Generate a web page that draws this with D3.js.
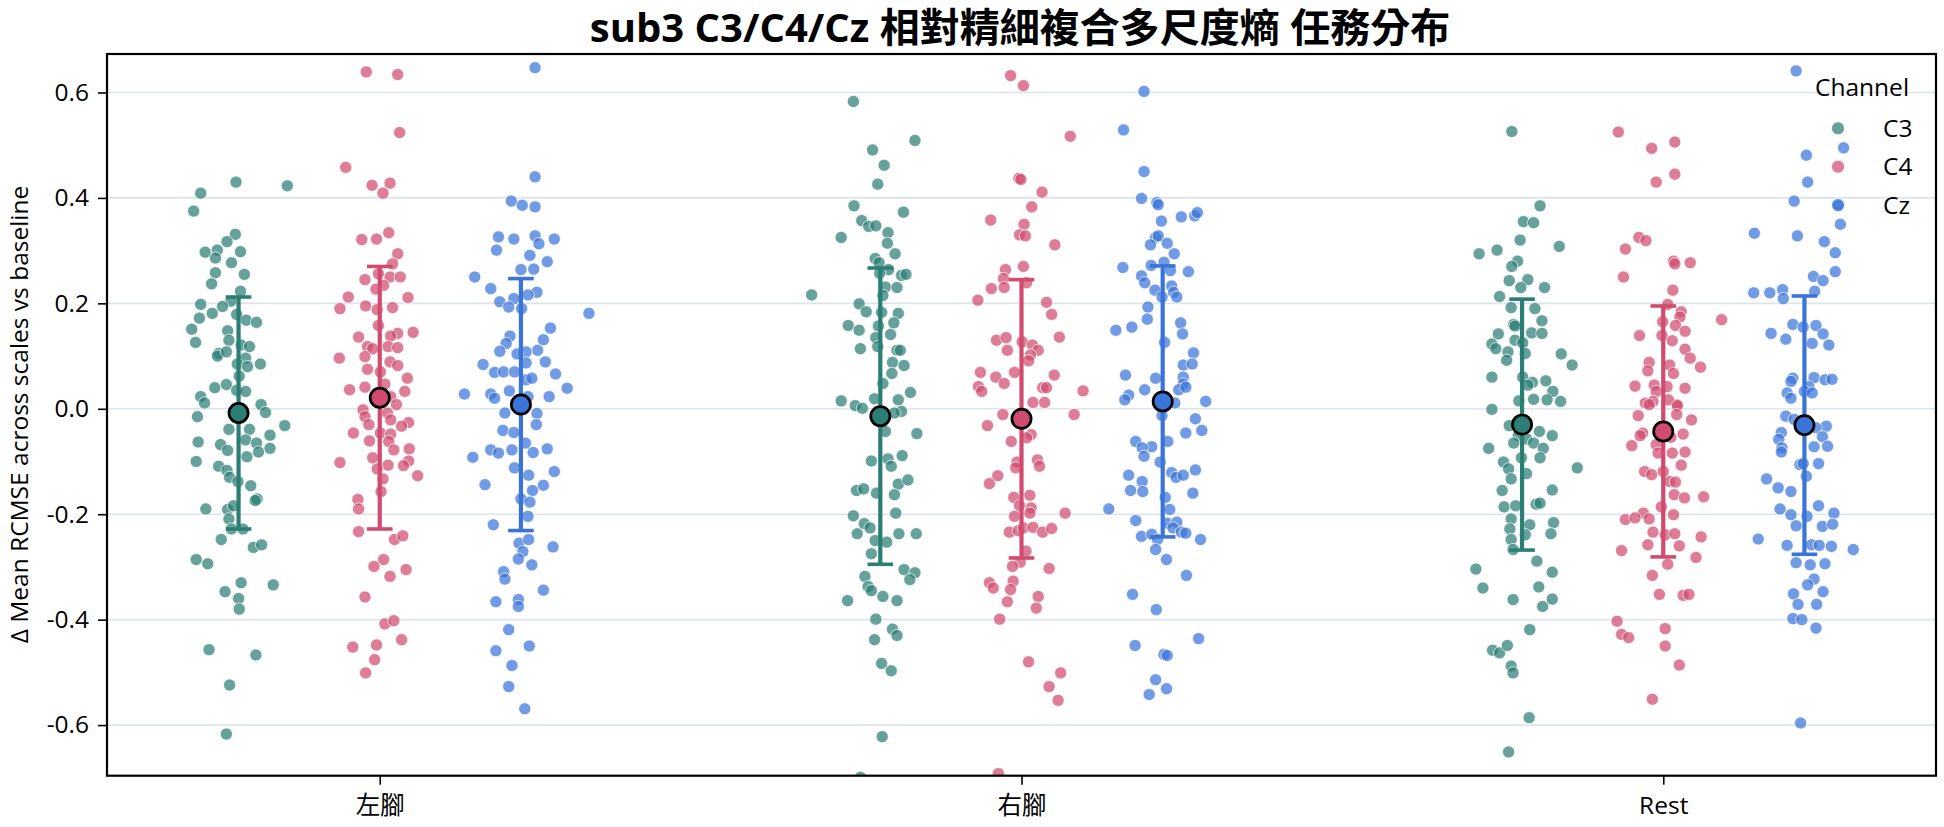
<!DOCTYPE html>
<html><head><meta charset="utf-8">
<script src="https://cdn.jsdelivr.net/npm/d3@7"></script>
<style>
body{margin:0;background:#fff;}
svg text{font-family:'Open Sans','Noto Sans CJK TC',sans-serif;fill:#000;}
</style></head><body>
<svg id="chart" width="1944" height="827"></svg>
<script>
const categories = ["左腳","右腳","Rest"];
const channels = ["C3","C4","Cz"];
const yTicks = [-0.6,-0.4,-0.2,0,0.2,0.4,0.6];
const yTickLabels = ["-0.6","-0.4","-0.2","0.0","0.2","0.4","0.6"];
const titleText = "sub3 C3/C4/Cz 相對精細複合多尺度熵 任務分布";
const yLabelText = "Δ Mean RCMSE across scales vs baseline";
const legendTitle = "Channel";

// 左腳
const leftC3Values=[0.409,0.430,0.423,0.375,0.331,0.317,0.297,0.301,0.286,0.298,0.277,0.258,0.255,0.237,0.223,0.204,0.198,0.194,0.179,0.181,0.172,0.168,0.164,0.151,0.148,0.126,0.130,0.121,0.118,0.105,0.100,0.108,0.096,0.085,0.085,0.080,0.062,0.040,0.046,0.035,0.033,0.023,0.011,0.008,-0.007,-0.015,-0.032,-0.039,-0.039,-0.050,-0.063,-0.068,-0.059,-0.065,-0.079,-0.075,-0.091,-0.082,-0.100,-0.109,-0.117,-0.130,-0.138,-0.146,-0.171,-0.174,-0.190,-0.191,-0.184,-0.209,-0.228,-0.228,-0.248,-0.263,-0.258,-0.286,-0.294,-0.330,-0.334,-0.347,-0.360,-0.380,-0.457,-0.467,-0.524,-0.617];
const leftC3Jitter=[-0.059,-0.004,0.076,-0.070,-0.005,-0.018,-0.052,-0.033,-0.036,0.003,-0.011,-0.036,0.009,-0.042,0.003,-0.012,-0.059,-0.025,-0.003,-0.041,-0.061,0.012,0.028,-0.073,-0.017,-0.067,-0.015,0.004,0.017,-0.031,-0.033,-0.019,0.011,0.034,-0.002,0.014,0.001,-0.037,-0.019,-0.003,0.011,-0.059,-0.053,0.035,0.042,-0.064,0.072,-0.015,0.017,0.049,-0.063,-0.028,0.011,0.028,-0.017,0.049,0.013,0.031,-0.066,-0.031,-0.018,-0.014,-0.001,0.019,0.029,0.026,-0.051,-0.017,-0.008,-0.015,-0.011,0.007,-0.027,0.023,0.036,-0.066,-0.048,0.004,0.054,-0.021,0.000,0.001,-0.046,0.027,-0.014,-0.019];
const leftC4Values=[0.639,0.634,0.524,0.458,0.424,0.428,0.409,0.334,0.321,0.322,0.294,0.275,0.245,0.256,0.250,0.250,0.234,0.227,0.212,0.211,0.190,0.195,0.192,0.188,0.158,0.143,0.145,0.138,0.136,0.118,0.114,0.118,0.116,0.096,0.099,0.089,0.082,0.075,0.070,0.058,0.047,0.041,0.036,0.033,0.023,0.008,-0.002,-0.008,-0.015,-0.021,-0.030,-0.026,-0.033,-0.046,-0.046,-0.048,-0.062,-0.061,-0.076,-0.078,-0.093,-0.107,-0.102,-0.099,-0.108,-0.114,-0.127,-0.133,-0.157,-0.172,-0.190,-0.233,-0.248,-0.241,-0.286,-0.299,-0.305,-0.318,-0.357,-0.408,-0.402,-0.438,-0.452,-0.448,-0.476,-0.501];
const leftC4Jitter=[-0.021,0.028,0.031,-0.053,-0.012,0.016,0.005,0.014,-0.028,-0.005,0.028,0.020,-0.023,-0.002,0.016,0.032,0.006,-0.006,-0.049,0.044,-0.062,-0.022,0.020,-0.004,-0.002,0.028,0.052,0.017,-0.033,-0.019,-0.011,0.013,0.028,-0.063,-0.023,0.016,0.028,-0.019,0.001,0.043,0.008,-0.023,-0.047,0.039,0.017,0.026,-0.026,0.012,-0.023,0.017,-0.017,0.045,0.034,-0.041,0.001,0.017,0.014,-0.016,0.046,0.022,-0.011,0.013,-0.062,0.045,0.037,-0.004,0.059,0.005,0.002,-0.034,-0.033,-0.033,0.023,0.036,0.006,-0.009,0.041,0.016,-0.023,0.008,0.022,0.034,-0.042,-0.005,-0.008,-0.022];
const leftCzValues=[0.647,0.440,0.394,0.386,0.383,0.326,0.322,0.328,0.322,0.313,0.301,0.291,0.279,0.264,0.265,0.250,0.228,0.221,0.216,0.209,0.203,0.193,0.190,0.181,0.153,0.138,0.131,0.124,0.109,0.111,0.108,0.104,0.087,0.084,0.089,0.069,0.070,0.070,0.066,0.055,0.058,0.039,0.028,0.028,0.034,0.020,0.023,0.023,-0.009,-0.008,-0.030,-0.041,-0.045,-0.065,-0.078,-0.084,-0.078,-0.083,-0.076,-0.092,-0.112,-0.126,-0.119,-0.144,-0.145,-0.155,-0.171,-0.177,-0.204,-0.220,-0.255,-0.248,-0.262,-0.271,-0.285,-0.296,-0.309,-0.323,-0.344,-0.366,-0.362,-0.375,-0.419,-0.459,-0.450,-0.487,-0.527,-0.569];
const leftCzJitter=[0.022,0.022,-0.015,0.002,0.022,-0.035,-0.011,0.022,0.052,0.028,-0.038,0.014,0.041,0.000,0.020,-0.072,-0.047,0.025,0.011,-0.011,-0.033,-0.019,0.001,0.106,0.046,-0.017,0.035,-0.023,-0.033,0.026,0.008,-0.006,0.008,-0.059,0.038,-0.041,-0.027,-0.010,0.054,0.008,0.017,0.072,-0.088,-0.047,-0.018,-0.041,0.044,0.011,0.025,-0.025,0.024,-0.028,-0.011,0.007,-0.047,-0.035,-0.014,0.019,0.041,-0.075,-0.010,0.012,0.052,-0.056,0.035,0.018,0.000,0.014,0.011,-0.043,-0.003,0.012,0.050,0.003,-0.004,0.017,-0.027,-0.025,0.035,-0.039,-0.004,-0.004,-0.019,-0.039,0.013,-0.014,-0.019,0.006];
// 右腳
const rightC3Values=[0.583,0.509,0.491,0.462,0.426,0.385,0.373,0.357,0.346,0.347,0.325,0.334,0.314,0.294,0.285,0.277,0.264,0.257,0.253,0.255,0.216,0.231,0.230,0.215,0.199,0.184,0.183,0.181,0.163,0.158,0.149,0.157,0.141,0.135,0.118,0.114,0.111,0.111,0.088,0.082,0.067,0.048,0.031,0.015,0.019,0.006,0.017,0.001,-0.005,-0.008,-0.043,-0.047,-0.099,-0.095,-0.109,-0.089,-0.155,-0.152,-0.160,-0.143,-0.135,-0.163,-0.203,-0.198,-0.218,-0.226,-0.237,-0.237,-0.237,-0.250,-0.253,-0.275,-0.305,-0.311,-0.324,-0.318,-0.337,-0.345,-0.356,-0.364,-0.364,-0.399,-0.418,-0.430,-0.438,-0.483,-0.497,-0.622,-0.699];
const rightC3Jitter=[-0.042,0.054,-0.012,0.006,-0.004,-0.041,0.036,-0.029,-0.018,-0.007,-0.061,0.012,0.011,0.023,-0.008,-0.002,0.013,-0.001,0.033,0.040,-0.107,0.008,0.026,0.004,-0.033,-0.022,0.002,0.028,0.021,-0.050,-0.033,-0.003,0.016,-0.007,-0.004,-0.031,0.026,0.031,0.019,0.037,0.018,0.004,0.047,-0.061,-0.009,-0.039,0.028,-0.028,0.033,0.022,0.008,0.057,-0.014,0.012,0.017,0.034,-0.037,-0.026,-0.006,0.028,0.043,0.022,-0.042,0.024,-0.025,-0.016,-0.036,0.029,0.056,-0.008,0.010,-0.014,0.037,0.054,0.046,-0.024,-0.019,-0.014,0.004,-0.051,0.026,-0.007,0.019,0.026,-0.009,0.002,0.017,0.003,-0.031];
const rightC4Values=[0.632,0.613,0.517,0.437,0.435,0.411,0.383,0.358,0.350,0.330,0.328,0.311,0.270,0.264,0.247,0.228,0.230,0.239,0.206,0.202,0.179,0.136,0.130,0.135,0.127,0.121,0.111,0.111,0.102,0.091,0.069,0.060,0.069,0.064,0.048,0.042,0.033,0.040,0.040,0.034,0.012,0.012,-0.011,-0.011,-0.032,-0.062,-0.049,-0.055,-0.097,-0.109,-0.101,-0.112,-0.127,-0.142,-0.168,-0.164,-0.184,-0.188,-0.204,-0.198,-0.198,-0.234,-0.231,-0.226,-0.225,-0.234,-0.227,-0.270,-0.291,-0.299,-0.303,-0.327,-0.330,-0.340,-0.343,-0.356,-0.366,-0.378,-0.399,-0.480,-0.501,-0.527,-0.553,-0.692];
const rightC4Jitter=[-0.017,0.003,0.076,-0.004,-0.001,0.032,0.016,-0.048,0.004,-0.003,0.006,0.052,0.003,-0.025,-0.028,-0.047,-0.027,0.008,-0.068,0.039,0.047,0.059,-0.039,-0.024,0.001,0.017,-0.022,0.026,0.014,0.011,-0.064,-0.040,-0.011,0.051,-0.027,-0.067,-0.062,0.033,0.039,0.096,0.018,0.036,-0.029,0.082,-0.053,-0.016,0.015,0.008,0.025,0.028,-0.007,-0.009,-0.037,-0.050,-0.012,0.013,-0.003,0.015,-0.011,0.013,0.068,-0.019,-0.005,0.003,0.018,0.033,0.047,0.007,-0.002,-0.014,0.043,-0.013,-0.050,-0.044,-0.017,0.026,-0.022,0.023,-0.034,0.011,0.061,0.043,0.057,-0.036];
const rightCzValues=[0.602,0.529,0.450,0.399,0.391,0.387,0.364,0.366,0.372,0.356,0.325,0.328,0.311,0.314,0.294,0.268,0.272,0.278,0.262,0.260,0.252,0.239,0.233,0.225,0.221,0.212,0.212,0.193,0.170,0.149,0.155,0.163,0.142,0.126,0.106,0.083,0.085,0.064,0.058,0.060,0.047,0.036,0.041,0.036,0.026,0.017,0.014,0.011,-0.019,-0.013,-0.041,-0.046,-0.062,-0.062,-0.072,-0.074,-0.090,-0.101,-0.126,-0.138,-0.121,-0.130,-0.126,-0.116,-0.155,-0.157,-0.160,-0.168,-0.190,-0.191,-0.212,-0.217,-0.215,-0.226,-0.234,-0.236,-0.242,-0.238,-0.248,-0.248,-0.267,-0.286,-0.316,-0.352,-0.381,-0.436,-0.449,-0.466,-0.468,-0.514,-0.531,-0.542];
const rightCzJitter=[-0.029,-0.061,-0.029,-0.033,-0.009,-0.007,0.029,0.050,0.054,-0.002,-0.011,-0.007,-0.019,0.007,0.018,-0.062,-0.018,0.002,0.012,0.040,-0.033,-0.028,0.014,-0.012,0.017,-0.001,0.022,-0.023,-0.024,-0.073,-0.048,0.028,0.031,0.003,0.048,0.032,0.046,-0.058,-0.011,0.032,0.032,0.025,0.036,-0.028,-0.053,-0.059,0.067,0.019,0.051,-0.001,0.061,0.036,-0.042,0.008,-0.017,-0.032,-0.029,-0.004,-0.053,-0.032,0.014,0.021,0.032,0.051,-0.050,-0.031,0.047,0.004,-0.084,0.011,-0.042,0.007,0.022,0.016,0.029,0.036,-0.033,-0.017,-0.008,0.059,-0.011,0.006,0.037,-0.047,-0.010,0.056,-0.043,0.002,0.007,-0.011,0.006,-0.021];
// Rest
const restC3Values=[0.526,0.385,0.355,0.353,0.320,0.294,0.301,0.308,0.280,0.270,0.243,0.245,0.230,0.230,0.213,0.192,0.190,0.167,0.160,0.157,0.142,0.144,0.143,0.130,0.125,0.123,0.114,0.108,0.105,0.092,0.104,0.083,0.060,0.060,0.053,0.050,0.045,0.033,0.018,0.015,0.017,0.014,-0.001,-0.032,-0.043,-0.051,-0.051,-0.057,-0.065,-0.065,-0.075,-0.075,-0.093,-0.093,-0.101,-0.114,-0.112,-0.123,-0.133,-0.155,-0.154,-0.186,-0.184,-0.181,-0.179,-0.209,-0.220,-0.216,-0.228,-0.239,-0.237,-0.248,-0.267,-0.304,-0.289,-0.310,-0.340,-0.338,-0.362,-0.361,-0.375,-0.419,-0.458,-0.463,-0.449,-0.488,-0.501,-0.586,-0.651];
const restC3Jitter=[-0.016,0.028,0.002,0.018,-0.003,-0.067,-0.039,0.058,-0.007,-0.016,-0.020,0.009,-0.002,0.035,-0.035,-0.017,0.020,0.031,-0.013,-0.011,-0.037,0.015,0.031,-0.011,0.001,-0.047,-0.041,-0.022,0.005,-0.024,0.061,0.078,-0.047,0.001,0.037,0.016,0.009,0.048,0.018,-0.005,0.039,0.060,-0.047,-0.020,0.027,0.047,-0.006,0.007,-0.013,0.018,-0.052,0.033,-0.001,0.028,-0.029,-0.021,0.086,0.007,-0.017,-0.031,0.047,-0.028,-0.010,0.022,0.028,-0.017,0.012,0.049,-0.019,0.005,0.045,-0.017,-0.014,-0.072,0.023,0.047,-0.061,0.026,-0.014,0.047,0.032,0.012,-0.046,-0.035,-0.023,-0.017,-0.014,0.011,-0.021];
const restC4Values=[0.525,0.506,0.494,0.445,0.430,0.325,0.319,0.303,0.280,0.275,0.277,0.250,0.225,0.198,0.184,0.174,0.169,0.165,0.158,0.147,0.139,0.139,0.129,0.113,0.096,0.079,0.088,0.072,0.083,0.067,0.043,0.045,0.042,0.039,0.033,0.011,0.014,0.008,0.017,0.008,0.006,-0.013,-0.011,-0.021,-0.046,-0.051,-0.048,-0.054,-0.070,-0.068,-0.082,-0.084,-0.084,-0.107,-0.119,-0.125,-0.119,-0.138,-0.139,-0.163,-0.169,-0.167,-0.186,-0.198,-0.210,-0.207,-0.209,-0.201,-0.234,-0.239,-0.237,-0.243,-0.258,-0.260,-0.269,-0.282,-0.295,-0.316,-0.352,-0.354,-0.352,-0.403,-0.428,-0.434,-0.417,-0.450,-0.486,-0.551];
const restC4Jitter=[-0.070,0.018,-0.018,0.018,-0.011,-0.038,-0.027,-0.059,0.016,0.018,0.042,-0.062,0.015,0.007,0.028,0.026,0.091,-0.001,0.019,0.034,-0.037,-0.002,0.014,0.034,0.042,0.058,-0.022,-0.024,0.010,0.016,-0.044,-0.014,0.006,0.034,-0.011,-0.028,-0.016,0.021,0.008,-0.022,0.022,-0.039,0.021,0.044,-0.032,-0.036,0.031,0.012,-0.049,-0.011,0.034,-0.008,0.014,0.028,-0.029,-0.018,0.000,0.010,0.019,0.017,0.033,0.063,-0.003,-0.031,-0.059,-0.044,-0.022,0.016,-0.016,0.003,0.018,0.059,-0.024,0.025,-0.065,0.051,0.007,-0.017,-0.006,0.031,0.040,-0.072,-0.065,-0.054,0.003,0.003,0.025,-0.017];
const restCzValues=[0.641,0.495,0.481,0.430,0.394,0.385,0.350,0.333,0.328,0.317,0.296,0.260,0.251,0.243,0.220,0.220,0.226,0.223,0.209,0.160,0.155,0.158,0.143,0.132,0.142,0.124,0.121,0.058,0.059,0.055,0.056,0.052,0.042,0.030,0.033,0.020,0.030,-0.014,-0.020,-0.033,-0.036,-0.045,-0.058,-0.053,-0.072,-0.074,-0.071,-0.082,-0.106,-0.104,-0.104,-0.128,-0.133,-0.150,-0.157,-0.184,-0.190,-0.201,-0.204,-0.198,-0.222,-0.223,-0.219,-0.247,-0.259,-0.258,-0.259,-0.261,-0.267,-0.292,-0.296,-0.294,-0.323,-0.334,-0.351,-0.347,-0.371,-0.371,-0.398,-0.400,-0.416,-0.596];
const restCzJitter=[-0.013,0.061,0.003,0.005,-0.016,0.053,0.056,-0.078,-0.011,0.031,0.048,0.048,0.014,0.029,-0.079,-0.054,-0.034,0.016,-0.033,-0.018,-0.002,0.018,-0.052,-0.029,0.029,0.012,0.038,-0.018,0.015,0.032,0.043,-0.021,0.007,-0.027,0.000,-0.021,0.012,-0.029,-0.016,0.034,0.018,-0.036,-0.040,0.028,0.015,-0.035,0.036,-0.036,-0.007,-0.002,0.022,0.003,-0.059,-0.041,-0.021,0.022,-0.038,-0.021,0.004,0.046,-0.013,0.028,0.044,-0.072,-0.027,0.011,0.023,0.042,0.076,-0.013,0.009,0.032,0.015,0.005,-0.017,0.029,-0.010,0.019,-0.018,-0.004,0.018,-0.006];

// summary (mean ± SD), per category in order 左腳, 右腳, Rest
const meanC3=[-0.008,-0.014,-0.030];
const meanC4=[0.021,-0.019,-0.043];
const meanCz=[0.008,0.014,-0.031];
const sdC3=[0.220,0.281,0.238];
const sdC4=[0.249,0.264,0.238];
const sdCz=[0.239,0.257,0.245];

const groups=[
  {cat:0,ch:"C3",values:leftC3Values,jitter:leftC3Jitter},
  {cat:0,ch:"C4",values:leftC4Values,jitter:leftC4Jitter},
  {cat:0,ch:"Cz",values:leftCzValues,jitter:leftCzJitter},
  {cat:1,ch:"C3",values:rightC3Values,jitter:rightC3Jitter},
  {cat:1,ch:"C4",values:rightC4Values,jitter:rightC4Jitter},
  {cat:1,ch:"Cz",values:rightCzValues,jitter:rightCzJitter},
  {cat:2,ch:"C3",values:restC3Values,jitter:restC3Jitter},
  {cat:2,ch:"C4",values:restC4Values,jitter:restC4Jitter},
  {cat:2,ch:"Cz",values:restCzValues,jitter:restCzJitter}
];
const means={C3:meanC3,C4:meanC4,Cz:meanCz};
const sds={C3:sdC3,C4:sdC4,Cz:sdCz};

const colors={C3:"#2b7e74",C4:"#d04b6f",Cz:"#3a74d9"};
const hueOffset={C3:-0.22,C4:0,Cz:0.22};

const svg=d3.select("#chart");
const L=107,R=1936,T=54,B=775.7;
const x=d3.scaleLinear().domain([-0.425,2.425]).range([L,R]);
const y=d3.scaleLinear().domain([-0.696,0.673]).range([B,T]);

svg.append("defs").append("clipPath").attr("id","clip")
  .append("rect").attr("x",L).attr("y",T).attr("width",R-L).attr("height",B-T);

// grid
svg.append("g").selectAll("line").data(yTicks).join("line")
  .attr("x1",L).attr("x2",R).attr("y1",d=>y(d)).attr("y2",d=>y(d))
  .attr("stroke","#dce4ec").attr("stroke-width",1.6);

// points
const pts=[];
groups.forEach(g=>{
  const n=Math.min(g.values.length,g.jitter.length);
  for(let i=0;i<n;i++) pts.push({x:g.cat+hueOffset[g.ch]+g.jitter[i],v:g.values[i],ch:g.ch});
});
svg.append("g").attr("clip-path","url(#clip)").selectAll("circle").data(pts).join("circle")
  .attr("cx",d=>x(d.x)).attr("cy",d=>y(d.v)).attr("r",6.1)
  .attr("fill",d=>colors[d.ch]).attr("fill-opacity",0.72)
  .attr("stroke","#fff").attr("stroke-width",0.8).attr("stroke-opacity",0.9);

// error bars + means
const summ=[];
categories.forEach((c,ci)=>channels.forEach(ch=>summ.push({x:ci+hueOffset[ch],m:means[ch][ci],s:sds[ch][ci],ch})));
const eb=svg.append("g");
summ.forEach(d=>{
  const cx=x(d.x);
  eb.append("line").attr("x1",cx).attr("x2",cx).attr("y1",y(d.m-d.s)).attr("y2",y(d.m+d.s))
    .attr("stroke",colors[d.ch]).attr("stroke-width",4.2);
  [d.m-d.s,d.m+d.s].forEach(v=>eb.append("line").attr("x1",cx-12.8).attr("x2",cx+12.8)
    .attr("y1",y(v)).attr("y2",y(v)).attr("stroke",colors[d.ch]).attr("stroke-width",3.6));
});
svg.append("g").selectAll("circle").data(summ).join("circle")
  .attr("cx",d=>x(d.x)).attr("cy",d=>y(d.m)).attr("r",9.6)
  .attr("fill",d=>colors[d.ch]).attr("stroke","#000").attr("stroke-width",2.7);

// axes
const yAxis=svg.append("g").attr("transform",`translate(${L},0)`)
  .call(d3.axisLeft(y).tickValues(yTicks).tickFormat((d,i)=>yTickLabels[i]).tickSize(9).tickPadding(9));
yAxis.select(".domain").remove();
yAxis.selectAll("line").attr("stroke","#000").attr("stroke-width",1.6);
yAxis.selectAll("text").attr("font-size",24.5).attr("font-family",null);

const xAxis=svg.append("g").attr("transform",`translate(0,${B})`)
  .call(d3.axisBottom(x).tickValues([0,1,2]).tickFormat(i=>categories[i]).tickSize(9).tickPadding(12));
xAxis.select(".domain").remove();
xAxis.selectAll("line").attr("stroke","#000").attr("stroke-width",1.6);
xAxis.selectAll("text").attr("font-size",24.5).attr("font-family",null);

// frame
svg.append("rect").attr("x",L).attr("y",T).attr("width",R-L).attr("height",B-T)
  .attr("fill","none").attr("stroke","#000").attr("stroke-width",2.2);

// y label
svg.append("text").attr("transform","translate(28,414.5) rotate(-90)")
  .attr("text-anchor","middle").attr("font-size",24.5).text(yLabelText);

// title
svg.append("text").attr("x",1020).attr("y",42).attr("text-anchor","middle")
  .attr("font-size",40).attr("font-weight","bold").text(titleText);

// legend
const lg=svg.append("g");
lg.append("text").attr("x",1815).attr("y",96).attr("font-size",24.5).text(legendTitle);
const legY=[128.3,166.7,205];
channels.forEach((ch,i)=>{
  lg.append("circle").attr("cx",1838).attr("cy",legY[i]).attr("r",6.5)
    .attr("fill",colors[ch]).attr("fill-opacity",0.72).attr("stroke","#fff").attr("stroke-width",0.8);
  lg.append("text").attr("x",1883).attr("y",legY[i]).attr("dy","0.35em").attr("font-size",24.5).text(ch);
});
</script>
</body></html>
